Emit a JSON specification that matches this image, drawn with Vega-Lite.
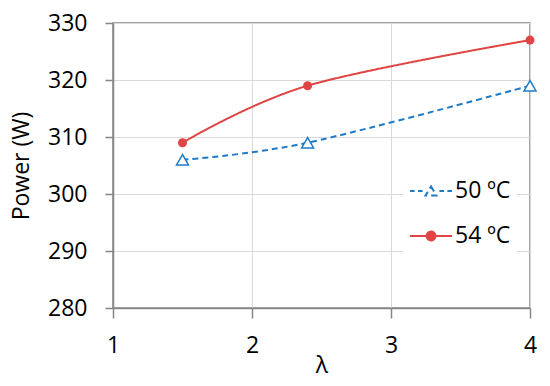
{
  "$schema": "https://vega.github.io/schema/vega-lite/v6.json",
  "width": 417,
  "height": 285,
  "autosize": {"type": "none"},
  "padding": {"left": 113, "top": 23, "right": 20, "bottom": 78},
  "background": "white",
  "config": {
    "view": {"stroke": "#868686", "strokeWidth": 1.5},
    "font": "Open Sans",
    "axis": {
      "domainColor": "#868686",
      "domainWidth": 1.5,
      "tickColor": "#868686",
      "tickWidth": 1.5,
      "gridColor": "#d9d9d9",
      "gridWidth": 1,
      "labelFont": "Open Sans",
      "labelFontSize": 23,
      "labelColor": "#000000",
      "titleFont": "Open Sans",
      "titleFontSize": 23,
      "titleFontWeight": "normal",
      "titleColor": "#000000"
    },
    "legend": {
      "labelFont": "Open Sans",
      "labelFontSize": 23,
      "labelColor": "#000000"
    }
  },
  "data": {
    "values": [
      {"lambda": 1.5, "power": 306, "series": "50 ºC"},
      {"lambda": 2.4, "power": 309, "series": "50 ºC"},
      {"lambda": 4.0, "power": 319, "series": "50 ºC"},
      {"lambda": 1.5, "power": 309, "series": "54 ºC"},
      {"lambda": 2.4, "power": 319, "series": "54 ºC"},
      {"lambda": 4.0, "power": 327, "series": "54 ºC"}
    ]
  },
  "encoding": {
    "x": {
      "field": "lambda",
      "type": "quantitative",
      "scale": {"domain": [1, 4], "nice": false, "zero": false},
      "axis": {
        "title": "λ",
        "values": [1, 2, 3, 4],
        "tickSize": 10,
        "labelPadding": 16,
        "titlePadding": -3,
        "labelFlush": false
      }
    },
    "y": {
      "field": "power",
      "type": "quantitative",
      "scale": {"domain": [280, 330], "nice": false, "zero": false},
      "axis": {
        "title": "Power (W)",
        "values": [280, 290, 300, 310, 320, 330],
        "tickSize": 8,
        "labelPadding": 18,
        "titlePadding": 14,
        "labelFlush": false
      }
    }
  },
  "layer": [
    {
      "mark": {"type": "line", "interpolate": "cardinal", "strokeWidth": 2},
      "encoding": {
        "color": {
          "field": "series",
          "type": "nominal",
          "scale": {"domain": ["50 ºC", "54 ºC"], "range": ["#1E7BC8", "#E04444"]},
          "legend": {
            "title": null,
            "orient": "none",
            "legendX": 290,
            "legendY": 140,
            "fillColor": "white",
            "padding": 6,
            "symbolSize": 1764,
            "symbolStrokeWidth": 2,
            "labelOffset": 2,
            "rowPadding": 11,
            "encode": {
              "symbols": {
                "update": {
                  "shape": {"signal": "datum.value === '50 ºC' ? 'M-1,0H-0.78M-0.62,0H-0.4M0.4,0H0.62M0.78,0H1M0,-0.22L0.26,0.22L-0.26,0.22Z' : 'M-1,0H1M-0.21,0A0.21,0.21 0 1,0 0.21,0A0.21,0.21 0 1,0 -0.21,0Z'"},
                  "fill": {"signal": "datum.value === '50 ºC' ? '#ffffff' : '#E04444'"}
                }
              }
            }
          }
        },
        "strokeDash": {
          "field": "series",
          "type": "nominal",
          "scale": {"domain": ["50 ºC", "54 ºC"], "range": [[6, 4], [1, 0]]},
          "legend": null
        }
      }
    },
    {
      "transform": [{"filter": "datum.series === '50 ºC'"}],
      "mark": {"type": "point", "shape": "triangle-up", "size": 144, "filled": true, "fill": "white", "stroke": "#1E7BC8", "strokeWidth": 1.5, "opacity": 1}
    },
    {
      "transform": [{"filter": "datum.series === '54 ºC'"}],
      "mark": {"type": "point", "shape": "circle", "size": 81, "filled": true, "color": "#E04444", "opacity": 1}
    }
  ]
}
